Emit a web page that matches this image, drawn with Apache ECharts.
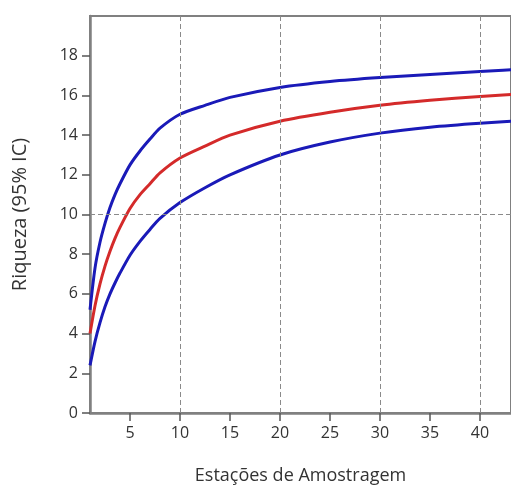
<!DOCTYPE html>
<html>
<head>
<meta charset="utf-8">
<script src="https://cdn.jsdelivr.net/npm/echarts@6/dist/echarts.min.js"></script>
<style>
  html, body { margin: 0; padding: 0; background: #fff; }
  #chart { width: 511px; height: 486px; }
</style>
</head>
<body>
<div id="chart"></div>
<script>
// estações (eixo x) e riqueza estimada
var estacoes = [1, 1.5, 2, 2.5, 3, 3.5, 4, 5, 6, 7, 8, 10, 12.5, 15, 20, 25, 30, 35, 40, 45];
var icSuperior = [5.2, 7.3, 8.6, 9.55, 10.35, 11.0, 11.55, 12.5, 13.2, 13.8, 14.35, 15.05, 15.5, 15.9, 16.4, 16.7, 16.9, 17.05, 17.2, 17.35];
var riqueza = [4.0, 5.4, 6.5, 7.4, 8.15, 8.8, 9.35, 10.3, 11.0, 11.55, 12.1, 12.85, 13.45, 14.0, 14.7, 15.15, 15.5, 15.75, 15.95, 16.1];
var icInferior = [2.4, 3.6, 4.55, 5.35, 6.0, 6.55, 7.05, 7.95, 8.65, 9.25, 9.8, 10.6, 11.35, 12.0, 13.0, 13.65, 14.1, 14.4, 14.6, 14.75];

var xTicks = [5, 10, 15, 20, 25, 30, 35, 40];
var yTicks = [0, 2, 4, 6, 8, 10, 12, 14, 16, 18];
var gradeX = [10, 20, 30, 40];
var gradeY = [10];

function pares(ys) {
    var out = [];
    for (var i = 0; i < estacoes.length; i++) {
        out.push([estacoes[i], ys[i]]);
    }
    return out;
}

var chart = echarts.init(document.getElementById('chart'));

var corEixo = '#808080';
var corTexto = '#333';

var linhasGrade = [];
gradeX.forEach(function (v) { linhasGrade.push({ xAxis: v }); });
gradeY.forEach(function (v) { linhasGrade.push({ yAxis: v }); });

var option = {
    backgroundColor: '#fff',
    animation: false,
    grid: {
        left: 90,
        right: 0,
        top: 16,
        bottom: 73,
        outerBoundsMode: 'none',
        show: true,
        borderColor: corEixo,
        borderWidth: 2
    },
    xAxis: {
        type: 'value',
        min: 1,
        max: 43.1,
        name: 'Estações de Amostragem',
        nameLocation: 'middle',
        nameGap: 54,
        nameTextStyle: { color: corTexto, fontSize: 18, fontFamily: 'Open Sans' },
        axisLine: { lineStyle: { color: corEixo, width: 2.5 } },
        axisTick: { customValues: xTicks, length: 8, lineStyle: { color: '#555', width: 1.5 } },
        axisLabel: { customValues: xTicks, color: corTexto, fontSize: 16, margin: 12, fontFamily: 'Open Sans' },
        splitLine: { show: false }
    },
    yAxis: {
        type: 'value',
        min: 0,
        max: 20,
        name: 'Riqueza (95% IC)',
        nameLocation: 'middle',
        nameGap: 60,
        nameTextStyle: { color: corTexto, fontSize: 20, fontFamily: 'Open Sans' },
        axisLine: { lineStyle: { color: corEixo, width: 2.5 } },
        axisTick: { customValues: yTicks, length: 8, lineStyle: { color: '#555', width: 1.5 } },
        axisLabel: { customValues: yTicks, color: corTexto, fontSize: 16, margin: 12, fontFamily: 'Open Sans' },
        splitLine: { show: false }
    },
    series: [
        {
            name: 'IC inferior',
            type: 'line',
            smooth: 0.25,
            showSymbol: false,
            lineStyle: { color: '#1a1ab8', width: 3 },
            data: pares(icInferior),
            markLine: {
                silent: true,
                symbol: 'none',
                label: { show: false },
                lineStyle: { color: '#8a8a8a', type: [5, 3], width: 1 },
                data: linhasGrade
            },
            z: 3
        },
        {
            name: 'Riqueza',
            type: 'line',
            smooth: 0.25,
            showSymbol: false,
            lineStyle: { color: '#d42a2a', width: 3 },
            data: pares(riqueza),
            z: 3
        },
        {
            name: 'IC superior',
            type: 'line',
            smooth: 0.25,
            showSymbol: false,
            lineStyle: { color: '#1a1ab8', width: 3 },
            data: pares(icSuperior),
            z: 3
        }
    ]
};

chart.setOption(option);
</script>
</body>
</html>
